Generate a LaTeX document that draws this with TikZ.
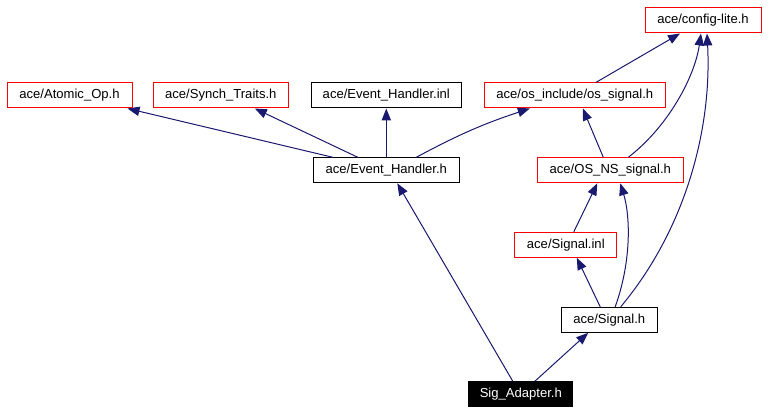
\documentclass[tikz,border=0pt]{standalone}
\usepackage{fontspec}
\setmainfont{Liberation Sans}
\usetikzlibrary{arrows.meta,calc}
\definecolor{edgeblue}{HTML}{191970}
\definecolor{boxred}{HTML}{FF0000}
\begin{document}
\begin{tikzpicture}[x=0.75pt,y=-0.75pt,
  box/.style={draw=black,line width=0.75pt,inner sep=0pt,minimum height=18.75pt,
    font=\fontsize{9.8}{12}\selectfont,fill=white},
  redbox/.style={box,draw=boxred},
  mainbox/.style={box,fill=black,text=white},
  dep/.style={draw=edgeblue,line width=0.75pt,-{Triangle[length=9pt,width=7pt,fill=edgeblue]}}]
\useasboundingbox (0,0) rectangle (773,413);
\node[redbox,minimum width=87pt]    (cfg)   at (703,20.5)  {ace/config-lite.h};
\node[redbox,minimum width=93.75pt] (atom)  at (69.5,95.5) {ace/Atomic\_Op.h};
\node[redbox,minimum width=101.25pt](synch) at (220.8,95.5){ace/Synch\_Traits.h};
\node[box,minimum width=112.5pt]    (ehinl) at (386.3,95.5){ace/Event\_Handler.inl};
\node[redbox,minimum width=135.75pt](ossig) at (574.8,95.5){ace/os\_include/os\_signal.h};
\node[box,minimum width=109.5pt]    (eh)    at (386.3,170.3){ace/Event\_Handler.h};
\node[redbox,minimum width=109.5pt] (osns)  at (610.3,170.3){ace/OS\_NS\_signal.h};
\node[redbox,minimum width=76.3pt]  (siginl) at (565.8,244.8){ace/Signal.inl};
\node[box,minimum width=72.2pt]     (sigh)  at (609.2,319.8){ace/Signal.h};
\node[mainbox,minimum width=77.8pt] (sigad) at (520.8,394.3){Sig\_Adapter.h};
% edges
\draw[dep] ($(eh.north west)+(20,0)$) -- ($(atom.south east)+(-5,0)$);
\draw[dep] ($(eh.north west)+(45,0)$) -- ($(synch.south)+(34,0)$);
\draw[dep] (eh.north) -- (ehinl.south);
\draw[dep] ($(eh.north)+(30,0)$) to[bend left=5] ($(ossig.south)+(-45,0)$);
\draw[dep] ($(osns.north)+(-7,0)$) -- ($(ossig.south)+(8,0)$);
\draw[dep] ($(ossig.north)+(21,0)$) -- ($(cfg.south)+(-23,0)$);
\draw[dep] ($(osns.north)+(18,0)$) .. controls (670,125) and (695,75) .. ($(cfg.south)+(-2,0)$);
\draw[dep] ($(sigh.north)+(11.5,0)$) .. controls (685,230) and (712,130) .. ($(cfg.south)+(4,0)$);
\draw[dep] ($(siginl.north)+(8,0)$) -- ($(osns.south)+(-13,0)$);
\draw[dep] ($(sigh.north)+(6,0)$) .. controls (632,260) and (630,215) .. ($(osns.south)+(10,0)$);
\draw[dep] ($(sigh.north)+(-9,0)$) -- ($(siginl.south)+(11,0)$);
\draw[dep] ($(sigad.north)+(14,0)$) -- ($(sigh.south)+(-21,0)$);
\draw[dep] ($(sigad.north)+(-8,0)$) -- ($(eh.south)+(11,0)$);
\end{tikzpicture}
\end{document}
